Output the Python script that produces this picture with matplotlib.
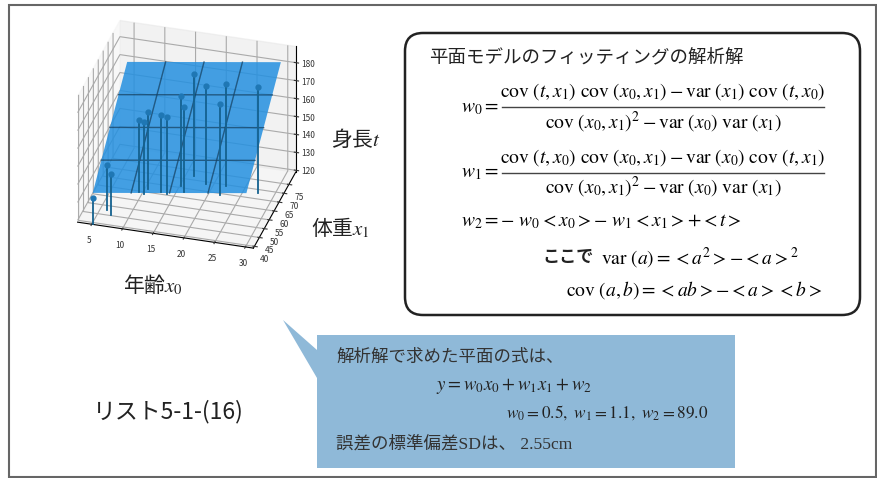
import numpy as np
import matplotlib
matplotlib.use('Agg')
import matplotlib.pyplot as plt
from matplotlib.patches import FancyBboxPatch, Polygon, Rectangle

plt.rcParams['font.family'] = ['Noto Sans CJK JP', 'DejaVu Sans']
plt.rcParams['mathtext.fontset'] = 'stix'

# datos
edad = [5.2, 6.2, 7.1, 9.4, 10.3, 10.5, 12.8, 13.8, 15.3, 16.1, 16.3, 18.9, 21.8, 22.0, 27.4]
peso = [39.5, 47.5, 45.1, 59.7, 59.1, 61.8, 61.0, 60.5, 65.8, 63.1, 71.9, 68.7, 63.9, 69.2, 68.4]
altura = [133, 144, 142, 159, 159, 162, 162, 162, 169, 166, 176, 174, 170, 176, 178]
w0, w1, w2 = 0.5, 1.1, 89.0
x_ticks = [5, 10, 15, 20, 25, 30]
y_ticks = [40, 45, 50, 55, 60, 65, 70, 75]
z_ticks = [120, 130, 140, 150, 160, 170, 180]

fig = plt.figure(figsize=(8.78, 4.78), dpi=100)

# fondo en pixeles para los recuadros y textos
bg = fig.add_axes([0, 0, 1, 1])
bg.set_xlim(0, 878)
bg.set_ylim(478, 0)
bg.axis('off')
bg.add_patch(Rectangle((9, 5), 867, 472, fill=False, ec='#666666', lw=1.5))
bg.add_patch(FancyBboxPatch((405, 33), 455, 282, boxstyle='round,pad=0,rounding_size=18', fc='white', ec='#222222', lw=1.8))
bg.add_patch(Polygon([(283, 320), (317, 350), (317, 335), (735, 335), (735, 468), (317, 468), (317, 378)],
                     closed=True, fc='#8fb9d8', ec='none'))

# grafico 3D
ax = fig.add_axes([47 / 878, 1 - 274 / 478, 272 / 878, 272 / 478], projection='3d', proj_type='ortho')
ax.patch.set_alpha(0)
ax.computed_zorder = False
ax.view_init(elev=31, azim=-74)
ax.set_box_aspect((181, 152, 145))
ax.set_xlim(2.7, 31.3)
ax.set_ylim(39, 82)
ax.set_zlim(119, 189)
ax.set_xticks(x_ticks)
ax.set_yticks(y_ticks)
ax.set_zticks(z_ticks)
ax.tick_params(labelsize=6, pad=-2, colors='#333333')
for eje in (ax.xaxis, ax.yaxis, ax.zaxis):
    eje._axinfo['grid']['color'] = '#aaaaaa'
    eje._axinfo['grid']['linewidth'] = 0.8

# plano con malla de 4x4
plano_x = np.linspace(5, 30, 5)
plano_y = np.linspace(40, 75, 5)
px, py = np.meshgrid(plano_x, plano_y)
pz = w0 * px + w1 * py + w2
ax.plot_surface(px, py, pz, color='#2490e0', alpha=0.85, linewidth=0, shade=False, zorder=2)
for i in range(1, 4):
    ax.plot(px[i, :], py[i, :], pz[i, :], color='#12456b', lw=1, alpha=0.8, zorder=3)
    ax.plot(px[:, i], py[:, i], pz[:, i], color='#12456b', lw=1, alpha=0.8, zorder=3)
for a, b, c in zip(edad, peso, altura):
    ax.plot([a, a], [b, b], [119, c], color='#14618f', lw=1.3, zorder=3)
ax.plot(edad, peso, altura, 'o', color='#1f77b4', ms=3.5, zorder=4)

# etiquetas de ejes
bg.text(123, 285, '年齢$x_0$', fontsize=15, ha='left', va='center', color='#222222')
bg.text(331, 139, '身長$t$', fontsize=15, ha='left', va='center', color='#222222')
bg.text(311, 228, '体重$x_1$', fontsize=15, ha='left', va='center', color='#222222')

# recuadro con las formulas
bg.text(429, 57, '平面モデルのフィッティングの解析解', fontsize=13.3, ha='left', va='center', color='#222222')
f = 14
bg.text(461, 107, '$w_0=$', fontsize=f, ha='left', va='center')
bg.text(663, 91, r'$\mathrm{cov}\ (t,x_1)\ \mathrm{cov}\ (x_0,x_1)-\mathrm{var}\ (x_1)\ \mathrm{cov}\ (t,x_0)$', fontsize=f, ha='center', va='center')
bg.plot([502, 824], [107, 107], color='#444444', lw=1)
bg.text(663, 122, r'$\mathrm{cov}\ (x_0,x_1)^2-\mathrm{var}\ (x_0)\ \mathrm{var}\ (x_1)$', fontsize=f, ha='center', va='center')
bg.text(461, 172, '$w_1=$', fontsize=f, ha='left', va='center')
bg.text(663, 157, r'$\mathrm{cov}\ (t,x_0)\ \mathrm{cov}\ (x_0,x_1)-\mathrm{var}\ (x_0)\ \mathrm{cov}\ (t,x_1)$', fontsize=f, ha='center', va='center')
bg.plot([502, 824], [173, 173], color='#444444', lw=1)
bg.text(663, 187, r'$\mathrm{cov}\ (x_0,x_1)^2-\mathrm{var}\ (x_0)\ \mathrm{var}\ (x_1)$', fontsize=f, ha='center', va='center')
bg.text(461, 221, r'$w_2=-\ w_0<x_0>-\ w_1<x_1>+<t>$', fontsize=f, ha='left', va='center')
bg.text(542, 257, 'ここで', fontsize=12.3, fontweight='bold', ha='left', va='center', color='#222222')
bg.text(601, 258, r'$\mathrm{var}\ (a)=<a^2>-<a>^2$', fontsize=f, ha='left', va='center')
bg.text(566, 290, r'$\mathrm{cov}\ (a,b)=<ab>-<a><b>$', fontsize=f, ha='left', va='center')

# recuadro azul
bg.text(336, 357, '解析解で求めた平面の式は、', fontsize=12.6, ha='left', va='center', color='#333333')
bg.text(436, 385, '$y=w_0x_0+w_1x_1+w_2$', fontsize=13.5, ha='left', va='center', color='#222222')
bg.text(506, 413, '$w_0=0.5,\\ w_1=1.1,\\ w_2=89.0$', fontsize=12.4, ha='left', va='center', color='#222222')
bg.text(336, 444, '誤差の標準偏差SDは、 2.55cm', fontsize=12.6, family=['Liberation Serif', 'Noto Sans CJK JP'],
        ha='left', va='center', color='#333333')

bg.text(93, 412, 'リスト5-1-(16)', fontsize=16.5, ha='left', va='center', color='#222222')

fig.savefig('out.png', dpi=100)
